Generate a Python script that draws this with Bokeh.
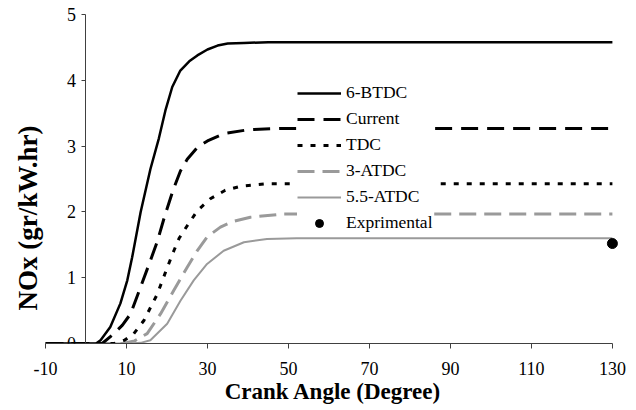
from bokeh.plotting import figure
from bokeh.models import Range1d, FixedTicker, Legend, LegendItem, Title, PrintfTickFormatter
from bokeh.embed import file_html
from bokeh.resources import INLINE

# ---- data ----
x_6btdc = [-10, 2.5, 3.6, 6.0, 8.5, 10.2, 11.4, 13.5, 15.9, 18.0, 19.6, 21.3, 23.3, 25.5, 27.5, 30, 32.5, 35, 39, 45, 130]
y_6btdc = [0, 0, 0.05, 0.25, 0.61, 0.96, 1.31, 2.0, 2.65, 3.12, 3.54, 3.90, 4.15, 4.29, 4.38, 4.47, 4.53, 4.56, 4.57, 4.58, 4.58]

x_current = [-10, 4, 6.9, 9, 11, 13.5, 15.9, 17.6, 19.5, 21.5, 23.3, 25, 27.5, 30, 34, 40, 48, 130]
y_current = [0, 0, 0.15, 0.28, 0.45, 0.86, 1.26, 1.55, 1.95, 2.33, 2.62, 2.80, 2.98, 3.08, 3.19, 3.25, 3.27, 3.27]

x_tdc = [-10, 7, 9.5, 11.8, 14.3, 17.6, 20.1, 21.7, 23.0, 25.0, 27.5, 30.7, 34.4, 38.1, 44.7, 130]
y_tdc = [0, 0, 0.05, 0.15, 0.35, 0.75, 1.16, 1.41, 1.60, 1.79, 2.02, 2.20, 2.33, 2.39, 2.43, 2.43]

x_3atdc = [-10, 9, 12, 15.1, 18.4, 21.7, 25.0, 27.45, 29.9, 33.2, 36, 40.6, 48.8, 130]
y_3atdc = [0, 0, 0.04, 0.15, 0.45, 0.81, 1.16, 1.41, 1.62, 1.77, 1.85, 1.92, 1.97, 1.97]

x_55atdc = [-10, 11, 13.5, 15.9, 20.05, 23.33, 26.6, 29.9, 34.0, 39.0, 44.7, 52, 130]
y_55atdc = [0, 0, 0.01, 0.05, 0.30, 0.65, 0.96, 1.21, 1.41, 1.54, 1.59, 1.60, 1.60]

x_exp = [130]
y_exp = [1.52]

x_ticks = [-10, 10, 30, 50, 70, 90, 110, 130]
y_ticks = [0, 1, 2, 3, 4, 5]

series_labels = ["6-BTDC", "Current", "TDC", "3-ATDC", "5.5-ATDC", "Exprimental"]
x_title = "Crank Angle (Degree)"
y_title = "NOx (gr/kW.hr)"

FONT = "Liberation Serif"
GRAY = "#9a9a9a"
AXIS = "#404040"

p = figure(width=636, height=410, output_backend="svg", toolbar_location=None,
           x_range=Range1d(-10, 132), y_range=Range1d(0, 5.2),
           min_border_left=45, min_border_right=16, min_border_top=1, min_border_bottom=67)
p.outline_line_color = None
p.grid.visible = False
p.background_fill_color = "white"
p.border_fill_color = "white"

# x axis: ordinary axis at the bottom of the frame (y = 0)
xa = p.xaxis[0]
xa.bounds = (-10, 130)
xa.ticker = FixedTicker(ticks=x_ticks)
xa.formatter = PrintfTickFormatter(format="%d")
xa.axis_label = x_title
xa.major_tick_out = 5
xa.major_label_standoff = 13
xa.axis_label_standoff = 1
xa.axis_label_text_font_size = "23px"

# y axis: crosses at x = 0
ya = p.yaxis[0]
ya.fixed_location = 0
ya.bounds = (0, 5)
ya.ticker = FixedTicker(ticks=y_ticks)
ya.major_tick_out = 4
ya.major_label_standoff = 6

for ax in (xa, ya):
    ax.axis_line_color = AXIS
    ax.major_tick_line_color = AXIS
    ax.minor_tick_line_color = None
    ax.major_tick_in = 0
    ax.major_label_text_font = FONT
    ax.major_label_text_font_size = "18px"
    ax.major_label_text_color = "black"
    ax.axis_label_text_font = FONT
    ax.axis_label_text_font_style = "bold"
    ax.axis_label_text_color = "black"

p.add_layout(Title(text=y_title, align="left", offset=33, vertical_align="middle", standoff=4,
                   text_font=FONT, text_font_size="27px", text_font_style="bold",
                   text_color="black"), "left")

r55 = p.line(x_55atdc, y_55atdc, line_color=GRAY, line_width=2)
r3 = p.line(x_3atdc, y_3atdc, line_color=GRAY, line_width=3, line_dash="17 8")
rt = p.line(x_tdc, y_tdc, line_color="black", line_width=3, line_dash="5 8")
rc = p.line(x_current, y_current, line_color="black", line_width=3, line_dash="17 9")
r6 = p.line(x_6btdc, y_6btdc, line_color="black", line_width=2.5)
re = p.scatter(x_exp, y_exp, marker="circle", size=10, fill_color="black", line_color="black")

renderers = [r6, rc, rt, r3, r55, re]
legend = Legend(items=[LegendItem(label=l, renderers=[r]) for l, r in zip(series_labels, renderers)],
                location=(252, 110), background_fill_color="white", background_fill_alpha=1.0,
                border_line_color=None, label_text_font=FONT, label_text_font_size="17.5px",
                label_text_color="black", glyph_width=44, glyph_height=20, label_height=20,
                label_standoff=5, spacing=5, padding=8, margin=0)
p.add_layout(legend, "center")

open("out.html", "w").write(file_html(p, INLINE))
